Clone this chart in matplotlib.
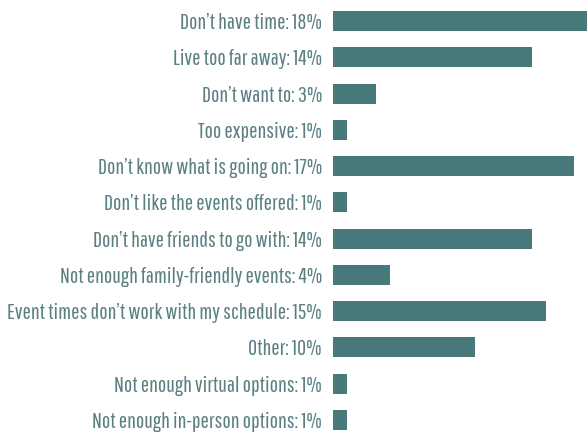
import matplotlib
matplotlib.use("Agg")
import matplotlib.pyplot as plt

categories = [
    "Don\u2019t have time", "Live too far away", "Don\u2019t want to", "Too expensive",
    "Don\u2019t know what is going on", "Don\u2019t like the events offered",
    "Don\u2019t have friends to go with", "Not enough family-friendly events",
    "Event times don\u2019t work with my schedule", "Other",
    "Not enough virtual options", "Not enough in-person options",
]
values = [18, 14, 3, 1, 17, 1, 14, 4, 15, 10, 1, 1]

fam = ["Pathway Gothic One", "Roboto Condensed", "DejaVu Sans"]
bar_color = "#47787A"
text_color = "#5B8082"

fig = plt.figure(figsize=(5.87, 4.34), dpi=100)
ax = fig.add_axes([333 / 587, 0, 254 / 587, 1])
y = list(range(len(categories)))
ax.barh(y, values, height=0.55, color=bar_color)
ax.set_xlim(0, 254 / 14.2)
ax.set_ylim(11.387, -0.579)
ax.set_yticks(y)
ax.set_yticklabels([f"{c}: {v}%" for c, v in zip(categories, values)],
                   fontsize=15.9, color=text_color, family=fam)
ax.tick_params(axis="y", length=0, pad=8)
ax.set_xticks([])
for s in ax.spines.values():
    s.set_visible(False)
fig.savefig("out.png", dpi=100)
